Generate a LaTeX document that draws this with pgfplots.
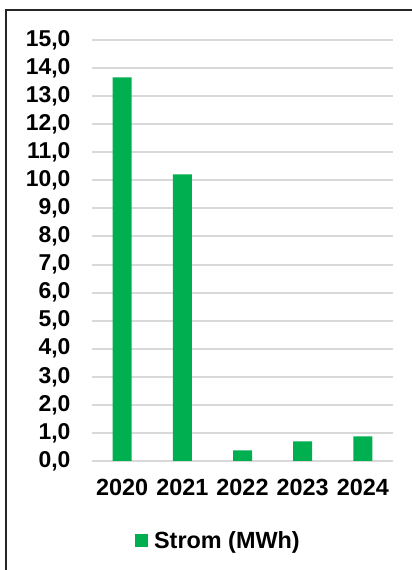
\documentclass[border=0pt]{standalone}
\usepackage{pgfplots}
\pgfplotsset{compat=1.18}
\usepackage{fontspec}
\setmainfont{Liberation Sans}
\definecolor{barGreen}{HTML}{00B050}
\definecolor{gridGray}{HTML}{D9D9D9}

\begin{document}
\begin{tikzpicture}
\useasboundingbox (0,0) rectangle (412bp,570bp);
\draw[line width=2bp, black!85] (5.5bp,0) -- (5.5bp,560bp) -- (412bp,560bp);

\begin{axis}[
    at={(92bp,109bp)}, anchor=south west,
    scale only axis,
    width=301bp, height=421bp,
    ybar, bar width=19bp,
    xmin=-0.5, xmax=4.5,
    ymin=0, ymax=15,
    ytick={0,1,...,15},
    xtick={0,1,2,3,4},
    xticklabels={2020,2021,2022,2023,2024},
    axis line style={draw=none},
    major tick length=0pt,
    ymajorgrids,
    grid style={gridGray, line width=2bp},
    font=\bfseries,
    /pgf/number format/assume math mode=true,
    /pgf/number format/fixed,
    /pgf/number format/fixed zerofill,
    /pgf/number format/precision=1,
    /pgf/number format/use comma,
    yticklabel style={font=\bfseries\fontsize{23}{27}\selectfont, xshift=-18bp},
    xticklabel style={font=\bfseries\fontsize{23.5}{28}\selectfont, yshift=-15bp},
    legend style={draw=none, at={(0.42,-0.19)}, anchor=center,
        font=\bfseries\fontsize{23.5}{28}\selectfont},
    legend image code/.code={\fill[#1] (0bp,-6.5bp) rectangle (13bp,6.5bp); \path (17bp,0);},
]
\addplot[fill=barGreen, draw=none] coordinates {(0,13.67) (1,10.21) (2,0.38) (3,0.70) (4,0.88)};
\addlegendentry{Strom (MWh)}
\end{axis}
\end{tikzpicture}
\end{document}
